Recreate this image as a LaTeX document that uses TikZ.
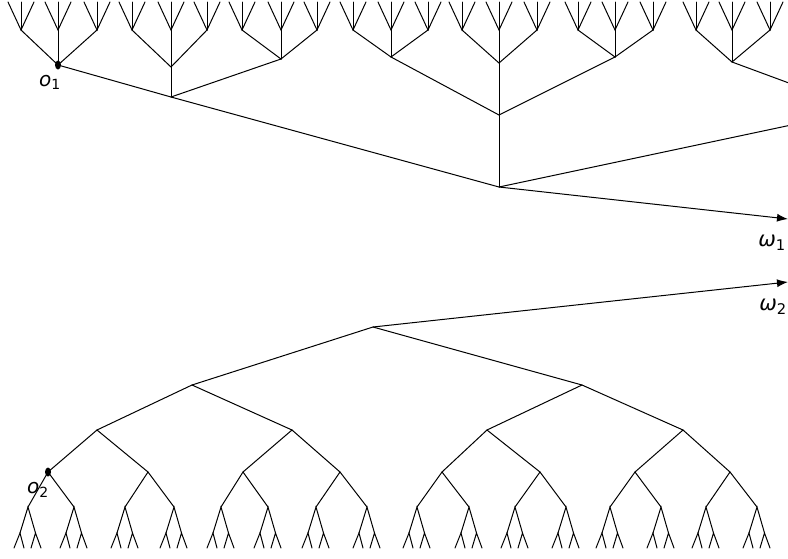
\documentclass[tikz,border=0pt]{standalone}
\usepackage{fontspec}
\newfontfamily\dvsans{DejaVu Sans}
\usetikzlibrary{arrows.meta}
\tikzset{
  edge/.style={line width=1pt, line cap=round},
  arr/.style={line width=1pt, -{Latex[length=11pt,width=8pt]}},
  dot/.style={fill=black, draw=none},
  lbl/.style={font=\dvsans\fontsize{20}{20}\selectfont, inner sep=0pt},
}
\begin{document}
\begin{tikzpicture}[x=1pt,y=-1pt]
\useasboundingbox (0,0) rectangle (788,558);
\begin{scope}
\clip (0,0) rectangle (788,558);
% ---------------- top ternary tree ----------------
\coordinate (A) at (499,187);
\coordinate (L1) at (171,97);
\coordinate (M1) at (499,115);
\coordinate (R1) at (862,110);
\coordinate (o1) at (58,65);
\coordinate (L1m) at (171,67);
\coordinate (L1r) at (281,59);
\coordinate (M1l) at (391,57);
\coordinate (M1m) at (499,63);
\coordinate (M1r) at (615,57);
\coordinate (R1l) at (732,62);
\draw[edge] (A) -- (L1);
\draw[edge] (A) -- (M1);
\draw[edge] (A) -- (R1);
\draw[edge] (L1) -- (o1);
\draw[edge] (L1) -- (L1m);
\draw[edge] (L1) -- (L1r);
\draw[edge] (M1) -- (M1l);
\draw[edge] (M1) -- (M1m);
\draw[edge] (M1) -- (M1r);
\draw[edge] (R1) -- (R1l);
\foreach \p/\a/\b/\c in {o1/21/58/97, L1m/132/171/207, L1r/242/281/317,
    M1l/353/391/428, M1m/462/499/537, M1r/578/615/653, R1l/696/732/770}{
  \foreach \k/\x in {1/\a, 2/\b, 3/\c}{
    \coordinate (\p-\k) at (\x,30);
    \coordinate (\p-\k-l) at (\x-13,2);
    \coordinate (\p-\k-m) at (\x,2);
    \coordinate (\p-\k-r) at (\x+13,2);
    \draw[edge] (\p) -- (\p-\k);
    \draw[edge] (\p-\k-l) -- (\p-\k) -- (\p-\k-r);
    \draw[edge] (\p-\k) -- (\p-\k-m);
  }
}
\coordinate (w1) at (788,219);
\draw[arr] (A) -- (w1);
% ---------------- bottom binary tree ----------------
\coordinate (B) at (373,327);
\coordinate (b1) at (192,385);
\coordinate (b2) at (582,385);
\coordinate (b11) at (97,430);
\coordinate (b12) at (292,430);
\coordinate (b21) at (487,430);
\coordinate (b22) at (683,430);
\draw[edge] (b1) -- (B) -- (b2);
\draw[edge] (b11) -- (b1) -- (b12);
\draw[edge] (b21) -- (b2) -- (b22);
\foreach \n/\x/\up in {1/48/b11, 2/148/b11, 3/243/b12, 4/340/b12,
    5/442/b21, 6/540/b21, 7/635/b22, 8/730/b22}{
  \coordinate (c\n) at (\x,472);
  \draw[edge] (\up) -- (c\n);
}
\foreach \n/\x/\up in {1/28/c1, 2/74/c1, 3/125/c2, 4/174/c2, 5/221/c3, 6/268/c3,
    7/316/c4, 8/367/c4, 9/417/c5, 10/469/c5, 11/515/c6, 12/566/c6,
    13/610/c7, 14/661/c7, 15/706/c8, 16/757/c8}{
  \coordinate (d\n) at (\x,507);
  \coordinate (d\n-l) at (\x-8,533);
  \coordinate (d\n-r) at (\x+7.5,533);
  \coordinate (d\n-ll) at (\x-14,548);
  \coordinate (d\n-lr) at (\x-4,548);
  \coordinate (d\n-rl) at (\x+3,548);
  \coordinate (d\n-rr) at (\x+13,548);
  \draw[edge] (\up) -- (d\n);
  \draw[edge] (d\n-l) -- (d\n) -- (d\n-r);
  \draw[edge] (d\n-ll) -- (d\n-l) -- (d\n-lr);
  \draw[edge] (d\n-rl) -- (d\n-r) -- (d\n-rr);
}
\coordinate (w2) at (788,282);
\draw[arr] (B) -- (w2);
\end{scope}
% dots and labels
\fill[dot] (o1) ellipse [x radius=3pt, y radius=4.5pt];
\fill[dot] (c1) ellipse [x radius=3pt, y radius=4.5pt];
\node[lbl] (o1lbl) at (50,82) {\itshape o\textsubscript{\upshape 1}};
\node[lbl] (o2lbl) at (38,490) {\itshape o\textsubscript{\upshape 2}};
\node[lbl, font=\dvsans\fontsize{21}{21}\selectfont] (w1lbl) at (772,243) {\itshape ω\textsubscript{\upshape 1}};
\node[lbl, font=\dvsans\fontsize{21}{21}\selectfont] (w2lbl) at (773,307) {\itshape ω\textsubscript{\upshape 2}};
\end{tikzpicture}
\end{document}
